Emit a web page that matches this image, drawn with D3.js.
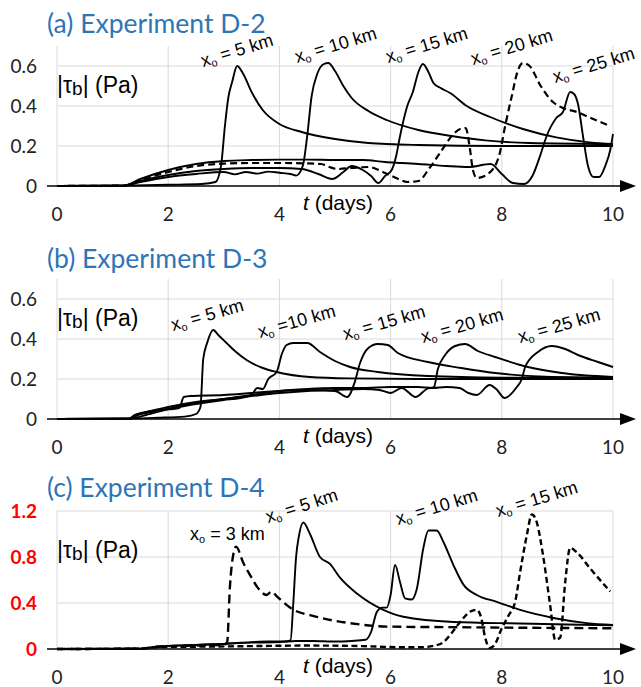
<!DOCTYPE html>
<html>
<head>
<meta charset="utf-8">
<script src="https://cdn.jsdelivr.net/npm/d3@7"></script>
<style>
  body { margin: 0; background: #fff; }
  svg { display: block; }
</style>
</head>
<body>
<svg id="chart" width="641" height="687"></svg>
<script>
// ---- data: [t (days), |tau_b| (Pa)] ----
var xTicks = [0, 2, 4, 6, 8, 10];
var yTicksAB = [0, 0.2, 0.4, 0.6];
var yTicksC = [0, 0.4, 0.8, 1.2];

// (a) Experiment D-2
var a5 = [[0,0],[1.2,0.002],[2.0,0.006],[2.6,0.01],[2.85,0.02],[2.95,0.1],[3.02,0.3],[3.08,0.44],[3.15,0.52],[3.24,0.6],[3.35,0.56],[3.5,0.47],[3.7,0.38],[4.0,0.31],[4.4,0.27],[5.0,0.235],[5.6,0.215],[6.5,0.205],[8,0.2],[10,0.2]];
var a10 = [[0,0],[1.2,0.002],[1.5,0.02],[2.0,0.045],[2.5,0.06],[3.0,0.07],[3.2,0.058],[3.4,0.07],[3.6,0.062],[3.8,0.072],[4.0,0.066],[4.2,0.06],[4.3,0.052],[4.42,0.1],[4.5,0.25],[4.58,0.45],[4.68,0.56],[4.8,0.61],[4.88,0.615],[5.0,0.575],[5.15,0.5],[5.3,0.44],[5.6,0.375],[5.93,0.33],[6.5,0.28],[7.1,0.25],[7.7,0.228],[8.5,0.215],[10,0.21]];
var a15 = [[0,0],[1.2,0.002],[1.5,0.025],[2,0.055],[2.5,0.075],[3,0.085],[3.5,0.09],[4,0.09],[4.4,0.085],[4.7,0.06],[4.95,0.035],[5.15,0.07],[5.3,0.1],[5.5,0.08],[5.65,0.05],[5.78,0.015],[5.9,0.05],[6.02,0.08],[6.1,0.15],[6.17,0.25],[6.3,0.4],[6.4,0.47],[6.5,0.57],[6.58,0.61],[6.68,0.57],[6.77,0.515],[6.9,0.49],[7.07,0.465],[7.37,0.4],[7.79,0.345],[8.38,0.285],[8.98,0.243],[9.58,0.218],[10,0.21]];
var a20 = [[0,0],[1.2,0.002],[1.5,0.03],[2,0.07],[2.5,0.1],[3,0.112],[3.5,0.115],[4,0.115],[4.5,0.113],[4.75,0.11],[4.9,0.095],[5.05,0.085],[5.3,0.09],[5.6,0.095],[5.9,0.065],[6.1,0.04],[6.3,0.02],[6.5,0.025],[6.7,0.09],[6.9,0.17],[7.1,0.25],[7.25,0.285],[7.35,0.29],[7.42,0.2],[7.48,0.08],[7.55,0.04],[7.75,0.06],[7.95,0.15],[8.06,0.3],[8.18,0.45],[8.28,0.57],[8.38,0.615],[8.5,0.6],[8.7,0.5],[8.92,0.42],[9.1,0.39],[9.35,0.37],[9.6,0.34],[9.95,0.3]];
var a25 = [[0,0],[1.2,0.002],[1.5,0.035],[2,0.08],[2.5,0.11],[3,0.125],[3.5,0.13],[4,0.132],[4.5,0.132],[5,0.13],[5.5,0.13],[5.9,0.12],[6.2,0.115],[6.5,0.11],[7,0.1],[7.4,0.095],[7.8,0.11],[8.0,0.06],[8.2,0.015],[8.4,0.01],[8.55,0.05],[8.7,0.16],[8.8,0.245],[8.98,0.34],[9.1,0.37],[9.23,0.47],[9.3,0.46],[9.37,0.41],[9.46,0.25],[9.55,0.1],[9.65,0.045],[9.75,0.045],[9.86,0.1],[9.95,0.18],[10,0.26]];

// (b) Experiment D-3
var b5 = [[0,0],[1.3,0.002],[1.8,0.006],[2.3,0.012],[2.5,0.025],[2.58,0.06],[2.63,0.3],[2.7,0.38],[2.81,0.445],[2.9,0.42],[3.05,0.38],[3.2,0.34],[3.41,0.295],[3.7,0.255],[3.95,0.235],[4.55,0.21],[5.27,0.203],[6.5,0.2],[10,0.2]];
var b10 = [[0,0],[1.3,0.002],[1.4,0.02],[1.6,0.03],[2.0,0.05],[2.5,0.075],[3.0,0.095],[3.3,0.105],[3.5,0.12],[3.6,0.155],[3.7,0.15],[3.8,0.2],[3.95,0.235],[4.05,0.33],[4.13,0.37],[4.25,0.38],[4.5,0.38],[4.73,0.335],[5.0,0.29],[5.27,0.26],[5.77,0.235],[6.67,0.215],[8,0.207],[10,0.205]];
var b15 = [[0,0],[1.3,0.002],[1.4,0.02],[1.7,0.04],[2.2,0.055],[2.28,0.11],[2.4,0.115],[3,0.12],[3.5,0.13],[4,0.14],[4.5,0.145],[5,0.14],[5.22,0.11],[5.35,0.18],[5.45,0.28],[5.6,0.355],[5.77,0.375],[5.95,0.37],[6.13,0.33],[6.67,0.285],[7.27,0.255],[7.88,0.23],[8.78,0.212],[10,0.208]];
var b20 = [[0,0],[1.3,0.002],[1.5,0.025],[2,0.06],[2.5,0.085],[3,0.1],[3.5,0.115],[4,0.13],[4.5,0.14],[5,0.145],[5.5,0.15],[5.8,0.145],[6.0,0.13],[6.2,0.155],[6.45,0.11],[6.65,0.15],[6.78,0.16],[6.85,0.25],[6.98,0.32],[7.16,0.365],[7.34,0.375],[7.57,0.34],[7.88,0.31],[8.47,0.26],[9.08,0.23],[10,0.21]];
var b25 = [[0,0],[1.3,0.002],[1.6,0.02],[2,0.05],[2.5,0.08],[3,0.1],[3.5,0.12],[4,0.14],[4.5,0.15],[5,0.155],[5.5,0.155],[6,0.16],[6.5,0.16],[6.75,0.155],[7.0,0.16],[7.24,0.155],[7.4,0.13],[7.55,0.12],[7.78,0.17],[7.9,0.15],[8.05,0.105],[8.27,0.16],[8.36,0.2],[8.42,0.26],[8.65,0.335],[8.9,0.365],[9.14,0.35],[9.37,0.32],[9.73,0.285],[10,0.26]];

// (c) Experiment D-4
var c3 = [[0,0],[1.5,0.003],[1.8,0.02],[2.5,0.03],[3.0,0.035],[3.06,0.06],[3.11,0.54],[3.17,0.82],[3.22,0.89],[3.35,0.75],[3.5,0.62],[3.6,0.54],[3.77,0.47],[3.86,0.5],[3.95,0.46],[4.19,0.36],[4.67,0.28],[5.27,0.225],[5.93,0.195],[7,0.19],[10,0.18]];
var c5 = [[0,0],[1.5,0.003],[1.8,0.02],[2.5,0.035],[3,0.045],[3.5,0.06],[3.8,0.065],[4.1,0.065],[4.2,0.075],[4.25,0.4],[4.3,0.8],[4.35,0.98],[4.43,1.1],[4.55,1.0],[4.73,0.8],[4.91,0.74],[5.09,0.62],[5.4,0.48],[5.87,0.34],[6.23,0.28],[7.13,0.235],[8.33,0.222],[10,0.205]];
var c10 = [[0,0],[1.5,0.003],[1.8,0.02],[2.5,0.035],[3,0.045],[3.5,0.055],[4,0.06],[4.3,0.07],[4.6,0.07],[5,0.065],[5.3,0.07],[5.55,0.08],[5.65,0.15],[5.75,0.32],[5.85,0.36],[5.93,0.36],[6.0,0.47],[6.08,0.73],[6.17,0.58],[6.26,0.44],[6.38,0.43],[6.47,0.52],[6.59,0.88],[6.68,1.03],[6.83,1.03],[6.95,0.93],[7.13,0.73],[7.31,0.56],[7.55,0.47],[7.91,0.41],[8.33,0.34],[8.93,0.27],[9.53,0.225],[10,0.21]];
var c15 = [[0,0],[1.5,0.003],[1.8,0.015],[2.5,0.02],[3.5,0.025],[4.5,0.03],[5.5,0.025],[6.2,0.015],[6.53,0.015],[6.8,0.03],[6.95,0.06],[7.1,0.14],[7.25,0.235],[7.45,0.33],[7.55,0.34],[7.63,0.27],[7.7,0.1],[7.78,0.01],[7.86,0.03],[8.0,0.18],[8.12,0.29],[8.24,0.41],[8.33,0.67],[8.45,0.99],[8.54,1.17],[8.63,1.1],[8.74,0.82],[8.87,0.38],[8.96,0.08],[9.05,0.1],[9.14,0.58],[9.23,0.88],[9.35,0.84],[9.59,0.7],[9.95,0.5]];

var titles = ["(a) Experiment D-2", "(b) Experiment D-3", "(c) Experiment D-4"];
var kmA = ["5", "10", "15", "20", "25"];
var kmB = ["5", "10", "15", "20", "25"];
var kmC = ["3", "5", "10", "15"];

// ---- layout ----
var svg = d3.select("#chart");
var font = "'Liberation Sans', Arial, sans-serif";
var numFont = "Lato, 'Open Sans', sans-serif";
var blue = "#2e75b6";

var x = d3.scaleLinear().domain([0, 10]).range([57, 613]);

var panels = [
  { title: titles[0], titleY: 33, top: 46, base: 186, ymax: 0.7, ticks: yTicksAB, tickColor: "#222", tickWeight: "normal",
    series: [{d: a5}, {d: a10}, {d: a15}, {d: a20, dash: "7,4"}, {d: a25}],
    labels: [
      {km: kmA[0], x: 203, y: 67, r: -17},
      {km: kmA[1], x: 297, y: 63, r: -17},
      {km: kmA[2], x: 388, y: 63, r: -17},
      {km: kmA[3], x: 473, y: 65, r: -17},
      {km: kmA[4], x: 555, y: 83, r: -17}
    ] },
  { title: titles[1], titleY: 268, top: 279, base: 419, ymax: 0.7, ticks: yTicksAB, tickColor: "#222", tickWeight: "normal",
    series: [{d: b5}, {d: b10}, {d: b15}, {d: b20}, {d: b25}],
    labels: [
      {km: kmB[0], x: 173, y: 331, r: -16},
      {km: kmB[1], x: 260, y: 338, r: -16, tight: true},
      {km: kmB[2], x: 345, y: 340, r: -16},
      {km: kmB[3], x: 423, y: 343, r: -16},
      {km: kmB[4], x: 520, y: 343, r: -16}
    ] },
  { title: titles[2], titleY: 497, top: 511, base: 649, ymax: 1.2, ticks: yTicksC, tickColor: "#ff0000", tickWeight: "bold",
    series: [{d: c3, dash: "9,5", w: 2.4}, {d: c5}, {d: c10}, {d: c15, dash: "6,3.5", w: 2.4}],
    labels: [
      {km: kmC[0], x: 190, y: 540, r: 0},
      {km: kmC[1], x: 268, y: 523, r: -18},
      {km: kmC[2], x: 398, y: 525, r: -17},
      {km: kmC[3], x: 498, y: 517, r: -17}
    ] }
];

panels.forEach(function(p) {
  var y = d3.scaleLinear().domain([0, p.ymax]).range([p.base, p.top]);
  var g = svg.append("g");

  // title
  g.append("text")
    .attr("x", 47).attr("y", p.titleY)
    .style("font-family", numFont).style("font-size", "26.5px")
    .style("fill", blue)
    .text(p.title);

  // grid
  g.selectAll(".vgrid").data(xTicks).enter().append("line")
    .attr("x1", function(d){ return x(d); }).attr("x2", function(d){ return x(d); })
    .attr("y1", p.top).attr("y2", p.base)
    .style("stroke", "#d9d9d9").style("stroke-width", 1);
  g.selectAll(".hgrid").data(p.ticks.filter(function(d){ return d > 0; })).enter().append("line")
    .attr("x1", x(0)).attr("x2", x(10))
    .attr("y1", function(d){ return y(d); }).attr("y2", function(d){ return y(d); })
    .style("stroke", "#d9d9d9").style("stroke-width", 1);

  // y tick labels
  g.selectAll(".ytick").data(p.ticks).enter().append("text")
    .attr("x", 37).attr("y", function(d){ return y(d); })
    .attr("dy", "0.35em").attr("text-anchor", "end")
    .style("font-family", numFont).style("font-size", "19px")
    .style("fill", p.tickColor).style("font-weight", p.tickWeight)
    .text(function(d){ return d === 0 ? "0" : d3.format(".1f")(d); });

  // x tick labels
  g.selectAll(".xtick").data(xTicks).enter().append("text")
    .attr("x", function(d){ return x(d); }).attr("y", p.base + 35)
    .attr("text-anchor", "middle")
    .style("font-family", numFont).style("font-size", "19px")
    .style("fill", "#222")
    .text(function(d){ return d; });

  // curves
  var line = d3.line()
    .x(function(d){ return x(d[0]); })
    .y(function(d){ return y(d[1]); })
    .curve(d3.curveMonotoneX);
  p.series.forEach(function(s) {
    g.append("path")
      .attr("d", line(s.d))
      .style("fill", "none").style("stroke", "#000")
      .style("stroke-width", s.w || (s.dash ? 2.2 : 1.9))
      .style("stroke-dasharray", s.dash || null)
      .style("stroke-linejoin", "round");
  });

  // x axis with arrow
  g.append("line")
    .attr("x1", 47).attr("x2", 622).attr("y1", p.base).attr("y2", p.base)
    .style("stroke", "#000").style("stroke-width", 1.3);
  g.append("path")
    .attr("d", "M620," + (p.base - 6) + "L636," + p.base + "L620," + (p.base + 6) + "Z")
    .style("fill", "#000");

  // axis titles
  var yl = g.append("text")
    .attr("x", 57).attr("y", p.top + 47)
    .style("font-family", font).style("font-size", "23px").style("fill", "#000");
  yl.append("tspan").text("|\u03c4");
  yl.append("tspan").attr("dy", 2).style("font-size", "19px").text("b");
  yl.append("tspan").attr("dy", -2).text("| (Pa)");

  var xl = g.append("text")
    .attr("x", 303).attr("y", p.base + 24)
    .style("font-family", font).style("font-size", "21px").style("fill", "#000");
  xl.append("tspan").style("font-style", "italic").text("t");
  xl.append("tspan").text(" (days)");

  // x_o labels
  p.labels.forEach(function(l) {
    var t = g.append("text")
      .attr("transform", "translate(" + l.x + "," + l.y + ") rotate(" + l.r + ")")
      .style("font-family", font).style("font-size", "18px").style("fill", "#000");
    t.append("tspan").text("x");
    t.append("tspan").attr("dy", 3).style("font-size", "11px").text("o");
    t.append("tspan").attr("dy", -3).text(l.tight ? " =" + l.km + " km" : " = " + l.km + " km");
  });
});
</script>
</body>
</html>
